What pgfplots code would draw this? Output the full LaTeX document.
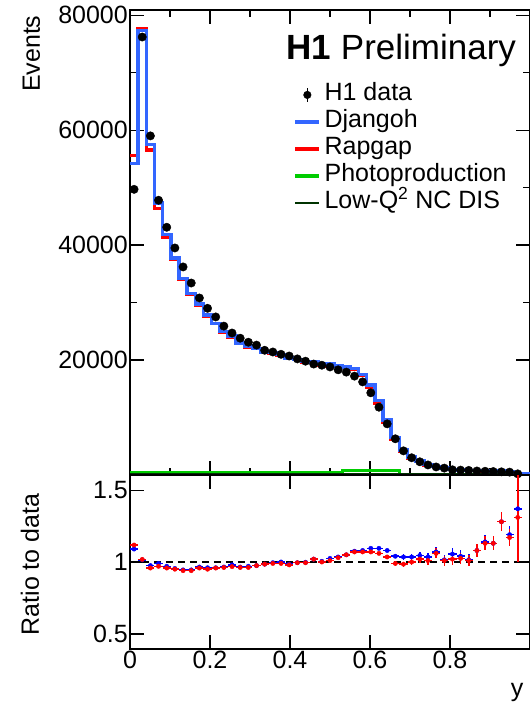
\documentclass[border=0pt]{standalone}
\usepackage{fontspec}
\setmainfont{Liberation Sans}
\usepackage{pgfplots}
\usepackage{pgfplotstable}
\pgfplotsset{compat=1.18}

\definecolor{djblue}{RGB}{51,102,255}
\definecolor{rpred}{RGB}{255,0,0}
\definecolor{phgreen}{RGB}{0,204,0}
\definecolor{lqgreen}{RGB}{0,51,0}
\definecolor{ratioblue}{RGB}{0,0,255}

% histograms: left bin edge, Djangoh, Rapgap, photoproduction, low-Q2
\pgfplotstableread{
xl dj rp php lq
0.0000 54170 55560 450 120
0.0204 77340 77720 450 120
0.0408 57530 56520 450 120
0.0612 47320 46370 450 120
0.0816 41810 41290 450 120
0.1020 37720 37530 450 120
0.1224 34210 34030 450 120
0.1429 31560 31400 450 120
0.1633 29720 29510 450 120
0.1837 27840 27550 450 120
0.2041 26400 26350 450 120
0.2245 24990 24920 450 120
0.2449 24210 23910 450 120
0.2653 22970 22900 450 120
0.2857 22410 22220 450 120
0.3061 22040 22040 450 120
0.3265 21370 21370 450 120
0.3469 21290 21190 450 120
0.3673 21000 20790 450 120
0.3878 20390 20290 450 120
0.4082 20100 20100 450 120
0.4286 19760 19700 450 120
0.4490 19690 19690 450 120
0.4694 19200 19100 450 120
0.4898 19270 18990 450 120
0.5102 18940 18850 450 120
0.5306 18800 18800 750 120
0.5510 18490 18400 750 120
0.5714 17500 17330 750 120
0.5918 15660 15300 750 120
0.6122 12920 12510 750 120
0.6327 9610 9210 750 120
0.6531 6550 6240 750 120
0.6735 4350 4140 100 120
0.6939 3110 3000 100 120
0.7143 2400 2350 100 120
0.7347 1810 1770 100 120
0.7551 1500 1480 100 120
0.7755 1220 1210 100 120
0.7959 950 920 100 120
0.8163 880 870 100 120
0.8367 810 810 100 120
0.8571 760 760 100 120
0.8776 740 730 100 120
0.8980 680 680 100 120
0.9184 700 700 100 120
0.9388 600 590 100 120
0.9592 270 260 100 120
0.9796 150 150 100 120
1.0000 150 150 100 120
}\histtab

% data: bin centre, events, Djangoh/data, err, Rapgap/data, err
\pgfplotstableread{
xc d rb eb rr er
0.0102 49700 1.090 0.006 1.118 0.006
0.0306 76200 1.015 0.005 1.018 0.005
0.0510 59000 0.975 0.005 0.958 0.005
0.0714 47800 0.990 0.005 0.970 0.005
0.0918 43100 0.970 0.005 0.958 0.005
0.1122 39500 0.955 0.005 0.950 0.005
0.1327 36200 0.945 0.006 0.940 0.006
0.1531 33400 0.945 0.006 0.940 0.006
0.1735 30800 0.965 0.006 0.958 0.006
0.1939 29000 0.960 0.006 0.950 0.006
0.2143 27500 0.960 0.006 0.958 0.006
0.2347 25900 0.965 0.006 0.962 0.006
0.2551 24700 0.980 0.006 0.968 0.006
0.2755 23800 0.965 0.006 0.962 0.006
0.2959 23100 0.970 0.006 0.962 0.006
0.3163 22600 0.975 0.006 0.975 0.006
0.3367 21700 0.985 0.006 0.985 0.006
0.3571 21400 0.995 0.006 0.990 0.006
0.3776 21000 1.000 0.006 0.990 0.006
0.3980 20700 0.985 0.006 0.980 0.006
0.4184 20200 0.995 0.007 0.995 0.007
0.4388 19800 0.998 0.007 0.995 0.007
0.4592 19300 1.020 0.007 1.020 0.007
0.4796 19100 1.005 0.007 1.000 0.007
0.5000 18800 1.025 0.007 1.010 0.007
0.5204 18300 1.035 0.007 1.030 0.007
0.5408 17900 1.050 0.007 1.050 0.007
0.5612 17200 1.075 0.008 1.070 0.008
0.5816 16200 1.080 0.008 1.070 0.008
0.6020 14300 1.095 0.009 1.070 0.009
0.6224 11800 1.095 0.010 1.060 0.010
0.6429 8900 1.080 0.012 1.035 0.012
0.6633 6300 1.040 0.015 0.990 0.015
0.6837 4200 1.035 0.018 0.985 0.018
0.7041 3000 1.035 0.022 1.000 0.022
0.7245 2300 1.045 0.025 1.020 0.025
0.7449 1750 1.035 0.030 1.010 0.030
0.7653 1400 1.070 0.035 1.060 0.035
0.7857 1200 1.015 0.035 1.010 0.035
0.8061 900 1.055 0.040 1.020 0.040
0.8265 850 1.040 0.040 1.025 0.040
0.8469 800 1.015 0.040 1.010 0.040
0.8673 700 1.080 0.045 1.080 0.045
0.8878 650 1.140 0.050 1.130 0.050
0.9082 600 1.130 0.050 1.130 0.050
0.9286 550 1.280 0.065 1.280 0.065
0.9490 500 1.190 0.060 1.170 0.060
0.9694 200 1.370 0.300 1.310 0.310
}\datatab

\newcommand{\bigfont}{\fontsize{25}{30}\selectfont}

\begin{document}
\begin{tikzpicture}
\pgfplotsset{
  every axis/.append style={
    scale only axis, width=400pt,
    xmin=0, xmax=1,
    tick align=inside, xtick pos=both, ytick pos=both,
    axis line style={line width=1.5pt},
    tick style={black, line width=1.2pt},
    major tick length=14pt, minor tick length=7pt,
    tick label style={font=\bigfont},
    /pgf/number format/assume math mode=true,
    yticklabel style={inner sep=2pt},
    xticklabel style={inner sep=2pt},
  }
}
% upper panel
\begin{axis}[
  at={(0,174pt)}, anchor=south west, height=465pt,
  ymin=0, ymax=80900,
  xtick={0,0.2,0.4,0.6,0.8,1}, xticklabels={}, minor x tick num=1,
  ytick={20000,40000,60000,80000},
  yticklabels={20000,40000,60000,80000},
  minor y tick num=1, scaled y ticks=false,
  legend image code/.code={\draw[#1] (0pt,0pt) -- (24pt,0pt);},
  legend cell align=left,
  legend style={draw=none, fill=none, at={(0.401,0.849)}, anchor=north west,
    font=\fontsize{25}{28}\selectfont, row sep=2pt,
    nodes={inner sep=1.5pt, text height=17pt, text depth=5pt},
    /tikz/every odd column/.append style={column sep=2pt}},
]
\addplot[const plot, phgreen, line width=3pt, forget plot] table[x=xl, y=php] {\histtab};
\addplot[const plot, lqgreen, line width=3pt, forget plot] table[x=xl, y=lq] {\histtab};
\addplot[const plot, rpred, line width=3.5pt, forget plot] table[x=xl, y=rp] {\histtab};
\addplot[const plot, djblue, line width=3.5pt, forget plot] table[x=xl, y=dj] {\histtab};
\addplot[only marks, mark=*, mark size=4.2pt, black, forget plot] table[x=xc, y=d] {\datatab};

\addlegendimage{black, legend image code/.code={
  \draw[black, line width=1.5pt] (12pt,-7pt) -- (12pt,7pt);
  \fill[black] (12pt,0pt) circle (3.8pt);}}
\addlegendentry{H1 data}
\addlegendimage{djblue, line width=3.5pt}
\addlegendentry{Djangoh}
\addlegendimage{rpred, line width=3.5pt}
\addlegendentry{Rapgap}
\addlegendimage{phgreen, line width=3.5pt}
\addlegendentry{Photoproduction}
\addlegendimage{lqgreen, line width=2pt}
\addlegendentry{Low-Q\textsuperscript{2} NC DIS}
\end{axis}

% ratio panel
\begin{axis}[
  at={(0,0)}, anchor=south west, height=174pt,
  ymin=0.395, ymax=1.605,
  xtick={0,0.2,0.4,0.6,0.8,1}, xticklabels={0,0.2,0.4,0.6,0.8,},
  ytick={0.5,1,1.5}, yticklabels={0.5,1,1.5},
]
\addplot[black, line width=1.2pt, dash pattern=on 7pt off 5pt] coordinates {(0,1) (1,1)};
\addplot[only marks, mark=*, mark size=2.2pt, ratioblue,
  error bars/.cd, x dir=both, x fixed=0.0102, y dir=both, y explicit,
  error mark=none, error bar style={line width=1.5pt, ratioblue}]
  table[x=xc, y=rb, y error=eb] {\datatab};
\addplot[only marks, mark=*, mark size=2.2pt, rpred,
  error bars/.cd, x dir=both, x fixed=0.0102, y dir=both, y explicit,
  error mark=none, error bar style={line width=1.5pt, rpred}]
  table[x=xc, y=rr, y error=er] {\datatab};
\end{axis}

\node[rotate=90, anchor=base east, font=\bigfont] at (-90pt,637pt) {Events};
\node[rotate=90, anchor=base east, font=\bigfont] at (-91pt,159pt) {Ratio to data};
\node[anchor=base east, font=\bigfont] at (397pt,-47pt) {y};
\node[anchor=base west, font=\fontsize{35}{40}\selectfont] at (153pt,589pt) {\textbf{H1} Preliminary};

\pgfresetboundingbox
\useasboundingbox (-130pt,-56pt) rectangle (399.2pt,649pt);
\end{tikzpicture}
\end{document}
